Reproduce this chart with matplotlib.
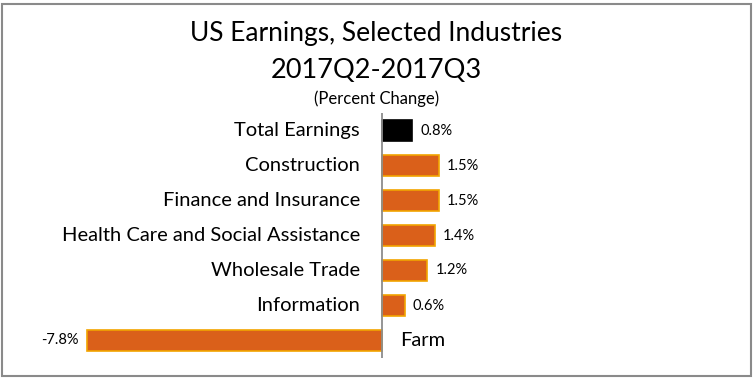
import matplotlib.pyplot as plt
from matplotlib.patches import Rectangle

# chart data
industries = ["Total Earnings", "Construction", "Finance and Insurance",
              "Health Care and Social Assistance", "Wholesale Trade",
              "Information", "Farm"]
pct_change = [0.8, 1.5, 1.5, 1.4, 1.2, 0.6, -7.8]
value_labels = ["0.8%", "1.5%", "1.5%", "1.4%", "1.2%", "0.6%", "-7.8%"]

plt.rcParams['font.family'] = ['Lato', 'DejaVu Sans']

W, H = 753, 378
fig = plt.figure(figsize=(W / 100, H / 100), dpi=100)

# gray border round the chart
fig.patches.append(Rectangle((2 / W, 2 / H), (W - 4) / W, (H - 6) / H,
                             transform=fig.transFigure, fill=False,
                             edgecolor='#8a8a8a', linewidth=1.5))

# axes placed in pixel space: zero at x=382, 37.8 px per percent
px_per = 37.82
x_zero = 382
ax_left, ax_right = 60, 700
ax_top, ax_bot = 113, 358
ax = fig.add_axes([ax_left / W, 1 - ax_bot / H,
                   (ax_right - ax_left) / W, (ax_bot - ax_top) / H])
ax.set_xlim((ax_left - x_zero) / px_per, (ax_right - x_zero) / px_per)
ax.set_ylim(len(industries) - 0.5, -0.5)

ypos = list(range(len(industries)))
colors = ['black' if n == "Total Earnings" else '#DA601A' for n in industries]
edges = ['black' if n == "Total Earnings" else '#F2A400' for n in industries]
ax.barh(ypos, pct_change, height=0.6, color=colors, edgecolor=edges,
        linewidth=1.2, zorder=2)
ax.axvline(0, color='#8c8c8c', linewidth=1.3, zorder=3)

gap = 22 / px_per
for y, v, lab, name in zip(ypos, pct_change, value_labels, industries):
    if v >= 0:
        ax.text(v + 8 / px_per, y, lab, ha='left', va='center', fontsize=10.5)
        ax.text(-gap, y, name, ha='right', va='center', fontsize=14.5)
    else:
        ax.text(v - 8 / px_per, y, lab, ha='right', va='center', fontsize=10.5)
        ax.text(18 / px_per, y, name, ha='left', va='center', fontsize=14.5)

for s in ax.spines.values():
    s.set_visible(False)
ax.set_xticks([])
ax.set_yticks([])

fig.text(0.5, 1 - 33 / H, "US Earnings, Selected Industries", ha='center',
         va='center', fontsize=19)
fig.text(0.5, 1 - 70 / H, "2017Q2-2017Q3", ha='center', va='center',
         fontsize=19.5)
fig.text(0.5, 1 - 99 / H, "(Percent Change)", ha='center', va='center',
         fontsize=12)

fig.savefig("out.png", dpi=100)
